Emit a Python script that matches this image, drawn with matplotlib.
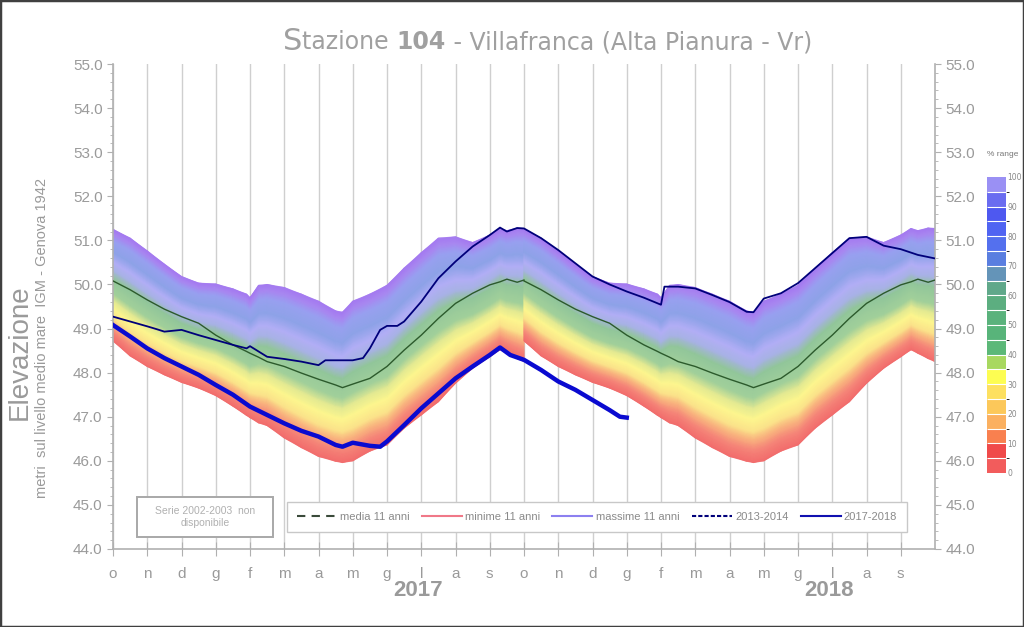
import numpy as np
import matplotlib
matplotlib.use("Agg")
import matplotlib.pyplot as plt
from matplotlib.colors import LinearSegmentedColormap, ListedColormap, BoundaryNorm
from matplotlib.cm import ScalarMappable
from matplotlib.lines import Line2D
from matplotlib.patches import Rectangle

# ---- dati ----
mesi = ["o", "n", "d", "g", "f", "m", "a", "m", "g", "l", "a", "s"] * 2

# statistiche 11 anni, anno idrologico (mesi dal 1 ottobre)
t_clim = [0, 0.5, 1, 1.5, 2, 2.5, 3, 3.5, 3.9, 4.0, 4.25, 4.5, 5, 5.5, 6,
          6.5, 6.7, 7, 7.5, 8, 8.5, 9, 9.5, 10, 10.5, 11, 11.3, 11.5, 11.8, 12]
massime = [51.25, 51.05, 50.76, 50.46, 50.18, 50.03, 50.01, 49.90, 49.78, 49.70,
           49.98, 50.00, 49.93, 49.78, 49.62, 49.40, 49.37, 49.62, 49.78, 49.98,
           50.37, 50.72, 51.05, 51.08, 50.95, 51.12, 51.27, 51.22, 51.28, 51.27]
minime = [48.72, 48.38, 48.14, 47.95, 47.78, 47.65, 47.48, 47.24, 47.03, 46.98,
          46.86, 46.80, 46.52, 46.30, 46.10, 45.99, 45.96, 46.00, 46.22, 46.36,
          46.74, 47.04, 47.34, 47.76, 48.10, 48.36, 48.52, 48.44, 48.32, 48.25]
media = [50.08, 49.88, 49.65, 49.44, 49.27, 49.12, 48.85, 48.63, 48.48, 48.44,
         48.35, 48.25, 48.14, 47.99, 47.85, 47.72, 47.66, 47.74, 47.87, 48.14,
         48.51, 48.85, 49.23, 49.57, 49.80, 49.99, 50.06, 50.12, 50.05, 50.10]

t_1314 = [0, 0.5, 1, 1.3, 1.5, 2, 2.5, 3, 3.5, 3.9, 4.0, 4.5, 5, 5.5, 6, 6.2,
          6.5, 7, 7.3, 7.5, 7.8, 8, 8.3, 8.5, 9, 9.5, 10, 10.5, 11, 11.3, 11.5,
          11.8, 12, 12.5, 13, 13.5, 14, 14.5, 15, 15.5, 16, 16.1, 16.5, 17, 17.5,
          18, 18.5, 18.7, 19, 19.5, 20, 20.5, 21, 21.5, 22, 22.5, 23, 23.5, 24]
v_1314 = [49.27, 49.16, 49.05, 48.98, 48.93, 48.97, 48.85, 48.74, 48.63, 48.55,
          48.60, 48.36, 48.31, 48.25, 48.17, 48.28, 48.28, 48.28, 48.33, 48.55,
          48.97, 49.06, 49.06, 49.16, 49.61, 50.14, 50.52, 50.86, 51.12, 51.29,
          51.20, 51.28, 51.27, 51.05, 50.78, 50.48, 50.18, 50.00, 49.84, 49.70,
          49.54, 49.95, 49.95, 49.91, 49.76, 49.60, 49.38, 49.37, 49.68, 49.80,
          50.03, 50.37, 50.71, 51.05, 51.08, 50.88, 50.80, 50.67, 50.59]

t_1718 = [0, 0.5, 1, 1.5, 2, 2.5, 3, 3.5, 4, 4.5, 5, 5.5, 6, 6.5, 6.7, 7, 7.5,
          7.8, 8, 8.5, 9, 9.5, 10, 10.5, 11, 11.3, 11.6, 12, 12.5, 13, 13.5, 14,
          14.5, 14.8, 15]
v_1718 = [49.08, 48.82, 48.55, 48.33, 48.14, 47.95, 47.72, 47.50, 47.23, 47.04,
          46.85, 46.68, 46.55, 46.36, 46.32, 46.41, 46.34, 46.32, 46.44, 46.81,
          47.19, 47.53, 47.87, 48.14, 48.40, 48.57, 48.40, 48.29, 48.06, 47.80,
          47.61, 47.38, 47.15, 47.00, 46.98]

# colori barra % range (dal basso)
cb_colori = ["#f25c5c", "#f04a4a", "#f9804f", "#fbb060", "#fcc85a", "#fde060",
             "#fdfd52", "#a8d860", "#5cb878", "#58b47a", "#5ab27c", "#5cae80",
             "#60a88a", "#6494b8", "#5a7ee0", "#5470ee", "#5064f2", "#4e58f0",
             "#6a6cf0", "#9a90f4"]

# sfumatura usata nel grafico (piu' tenue)
banda_stop = [(0.00, "#f26c6c"), (0.08, "#f58478"), (0.15, "#f9b27e"),
              (0.21, "#fbe48a"), (0.29, "#fdf68e"), (0.36, "#e4ea92"),
              (0.43, "#a2d09a"), (0.56, "#92c69a"), (0.64, "#a8b2e6"),
              (0.71, "#b2aef6"), (0.80, "#8ea2e8"), (0.90, "#98a0f0"),
              (0.96, "#a888f0"), (1.00, "#a47af0")]

grigio = "#9a9a9a"

fig = plt.figure(figsize=(10.24, 6.27), dpi=100)
ax = fig.add_axes([113 / 1024, 1 - 549 / 627, 822 / 1024, 485 / 627])

cmap_banda = LinearSegmentedColormap.from_list("banda", banda_stop)
f = np.linspace(0, 1, 121)
lo = np.array(minime)
hi = np.array(massime)
for off in (0, 12):
    X = np.tile(np.array(t_clim) + off, (len(f), 1))
    Y = lo[None, :] + f[:, None] * (hi - lo)[None, :]
    C = np.tile(f[:, None], (1, len(t_clim)))
    ax.pcolormesh(X, Y, C, cmap=cmap_banda, vmin=0, vmax=1,
                  shading="gouraud", alpha=0.9, zorder=1)
    ax.plot(np.array(t_clim) + off, media, color="#2c5a2c", lw=1.0, zorder=3)

ax.plot(t_1314, v_1314, color="#00007a", lw=1.3, zorder=4)
ax.plot(t_1718, v_1718, color="#0a0ad0", lw=3.2, zorder=5)

ax.set_xlim(0, 24)
ax.set_ylim(44, 55)
ax.set_xticks(range(24))
ax.set_xticklabels(mesi)
ax.set_xticks([3, 15], minor=True)
ax.set_yticks(np.arange(44, 55.1, 1))
ax.set_yticks(np.arange(44, 55.01, 0.2), minor=True)
ax.yaxis.set_major_formatter(matplotlib.ticker.FormatStrFormatter("%.1f"))
ax.grid(axis="x", color="#cfcfcf", lw=1.0, zorder=0)
ax.set_axisbelow(True)

ax.spines["top"].set_visible(False)
for s in ("left", "right", "bottom"):
    ax.spines[s].set_color("#b0b0b0")
    ax.spines[s].set_linewidth(1.2)

ax.tick_params(axis="y", which="both", left=True, right=True, labelleft=True,
               labelright=True, direction="out", colors="#b0b0b0",
               labelcolor=grigio, labelsize=11, labelfontfamily="Liberation Sans")
ax.tick_params(axis="y", which="major", length=4)
ax.tick_params(axis="y", which="minor", length=2)
ax.tick_params(axis="x", which="major", direction="inout", length=10,
               colors="#b0b0b0", labelcolor=grigio, labelsize=11, pad=8,
               labelfontfamily="Liberation Sans")
ax.tick_params(axis="x", which="minor", direction="out", length=12,
               width=1.5, colors="#999999")

# anni
for x, anno in ((8.9, "2017"), (20.9, "2018")):
    ax.text(x, -0.085, anno, transform=ax.get_xaxis_transform(), ha="center",
            va="center", fontsize=16, fontweight="bold", color=grigio,
            family="Liberation Sans")

# etichette asse y
fig.text(20 / 1024, 1 - 352 / 627, "Elevazione", rotation=90, ha="center",
         va="center", fontsize=20, color=grigio, family="Liberation Sans")
fig.text(42 / 1024, 1 - 338 / 627,
         "metri  sul livello medio mare  IGM - Genova 1942", rotation=90,
         ha="center", va="center", fontsize=10.5, color=grigio,
         family="Liberation Sans")

# titolo
t1 = fig.text(283 / 1024, 1 - 50 / 627, "S", fontsize=22, color="#a0a0a0",
              ha="left", va="baseline", family="DejaVu Sans")
pezzi = [("tazione ", "normal"), ("104", "bold"),
         (" - Villafranca (Alta Pianura - Vr)", "normal")]
prec = t1
for i, (testo, peso) in enumerate(pezzi):
    dy = 1.2 if i == 0 else 0
    prec = ax.annotate(testo, xy=(1, 0), xycoords=prec, xytext=(0, dy),
                       textcoords="offset points", ha="left", va="bottom",
                       fontsize=17, fontweight=peso, color="#a0a0a0",
                       family="DejaVu Sans", annotation_clip=False)

# riquadro serie non disponibile
ax.add_patch(Rectangle((0.0292, 0.0247), 0.1655, 0.0825, transform=ax.transAxes,
                       facecolor="white", edgecolor="#a8a8a8", lw=1.4, zorder=6))
ax.text(0.0292 + 0.1655 / 2, 0.0247 + 0.0825 / 2, "Serie 2002-2003  non\ndisponibile",
        transform=ax.transAxes, ha="center", va="center", fontsize=7.5,
        color="#b0b0b0", family="Liberation Sans", zorder=7, linespacing=1.2)

# legenda
handles = [Line2D([], [], color="#3a4a3a", lw=1.5, ls=(0, (4, 3))),
           Line2D([], [], color="#f07888", lw=1.5),
           Line2D([], [], color="#8c80f0", lw=1.5),
           Line2D([], [], color="#00007a", lw=1.5, ls=(0, (2, 1))),
           Line2D([], [], color="#1010b0", lw=1.5)]
labels = ["media 11 anni", "minime 11 anni", "massime 11 anni", "2013-2014",
          "2017-2018"]
leg = ax.legend(handles, labels, ncol=5, loc="center",
                bbox_to_anchor=(0.2044, 0.0247, 0.7686, 0.0825), mode="expand",
                frameon=True, fancybox=False, handlelength=3.6,
                handletextpad=0.3, borderpad=0.9, framealpha=1,
                prop={"family": "Liberation Sans", "size": 8})
leg.get_frame().set_edgecolor("#c8c8c8")
leg.get_frame().set_linewidth(1.0)
leg.set_zorder(6)
for t in leg.get_texts():
    t.set_color("#8a8a8a")

# barra colori % range
cax = fig.add_axes([987 / 1024, 1 - 473 / 627, 19 / 1024, 296 / 627])
norm = BoundaryNorm(np.arange(0, 101, 5), 20)
cb = fig.colorbar(ScalarMappable(norm=norm, cmap=ListedColormap(cb_colori)),
                  cax=cax, ticks=range(0, 101, 10), drawedges=True)
cb.outline.set_visible(False)
cb.dividers.set_color("white")
cb.dividers.set_linewidth(0.8)
cax.tick_params(length=0, labelsize=5.5, labelcolor="#888888", pad=1)
fig.text(1003 / 1024, 1 - 155 / 627, "% range", ha="center", va="center",
         fontsize=6, color="#777777", family="Liberation Sans")

fig.patches.append(Rectangle((0, 0), 1, 1, transform=fig.transFigure,
                             fill=False, edgecolor="#404040", lw=2.5))

fig.savefig("out.png", dpi=100)
